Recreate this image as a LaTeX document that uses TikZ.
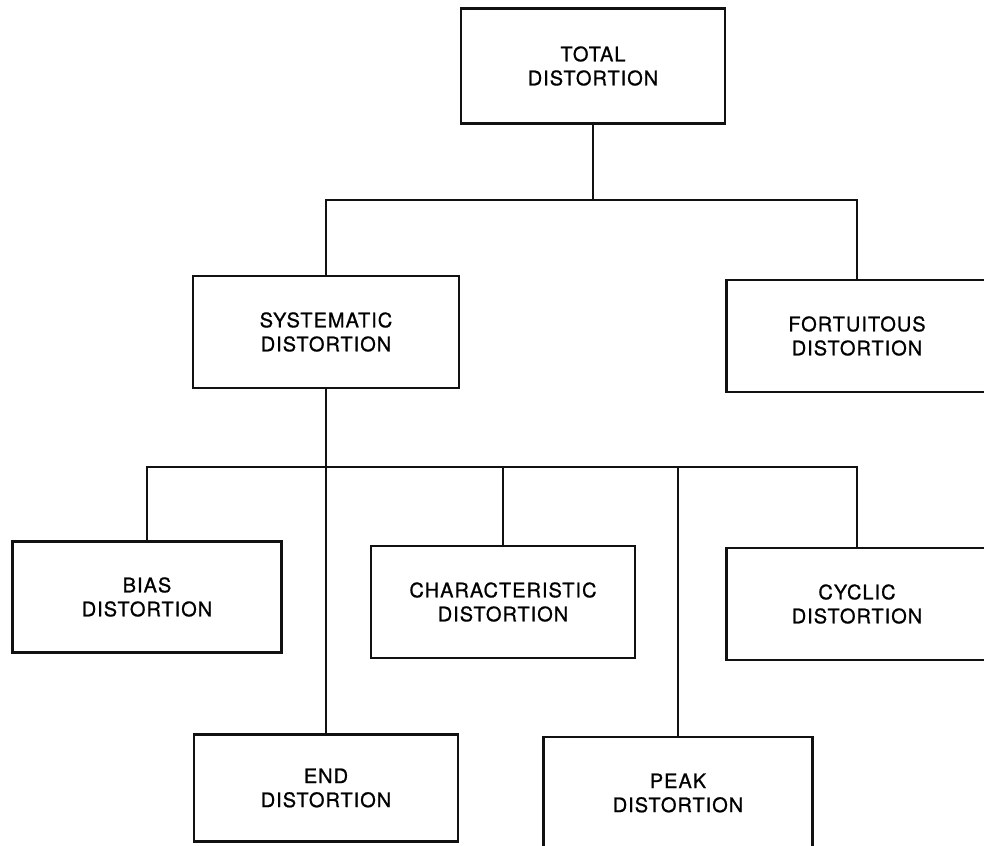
\documentclass[tikz,border=0pt]{standalone}
\usepackage{fontspec}
\newfontfamily\labelfont{TeX Gyre Heros}[LetterSpace=5, FakeBold=0.9]
\definecolor{inkblack}{HTML}{111111}

\begin{document}
\begin{tikzpicture}[x=1pt, y=-1pt, font=\labelfont\fontsize{20}{24}\selectfont,
    box/.style={draw=inkblack, line width=2.6pt, rectangle, align=center,
      inner sep=0pt, minimum width=264pt, minimum height=112pt},
    wire/.style={draw=inkblack, line width=2.6pt}]
  \useasboundingbox (0,0) rectangle (984,845);
  \clip (0,0) rectangle (984,845);
  \node[box, minimum height=115pt] (total) at (593,66) {TOTAL\\DISTORTION};
  \node[box, minimum width=266pt] (sys) at (326,332) {SYSTEMATIC\\DISTORTION};
  \node[box, minimum width=261pt] (fort) at (857,336) {FORTUITOUS\\DISTORTION};
  \node[box, minimum width=269pt, minimum height=111pt] (bias) at (147,597) {BIAS\\DISTORTION};
  \node[box] (char) at (503,602) {CHARACTERISTIC\\DISTORTION};
  \node[box, minimum width=261pt] (cyc) at (857,604) {CYCLIC\\DISTORTION};
  \node[box, minimum height=107pt] (endd) at (326,788) {END\\DISTORTION};
  \node[box, minimum width=269pt] (peak) at (678,793) {PEAK\\DISTORTION};
  \coordinate (topjoin) at (593,200);
  \coordinate (lowjoin) at (326,467);
  \draw[wire] (total.south) -- (topjoin);
  \draw[wire] (sys.north) |- (topjoin) -| (fort.north);
  \draw[wire] (sys.south) -- (endd.north);
  \draw[wire] (bias.north) |- (lowjoin) -| (cyc.north);
  \draw[wire] (char.north) -- (char.north |- lowjoin);
  \draw[wire] (peak.north) -- (peak.north |- lowjoin);
\end{tikzpicture}
\end{document}
